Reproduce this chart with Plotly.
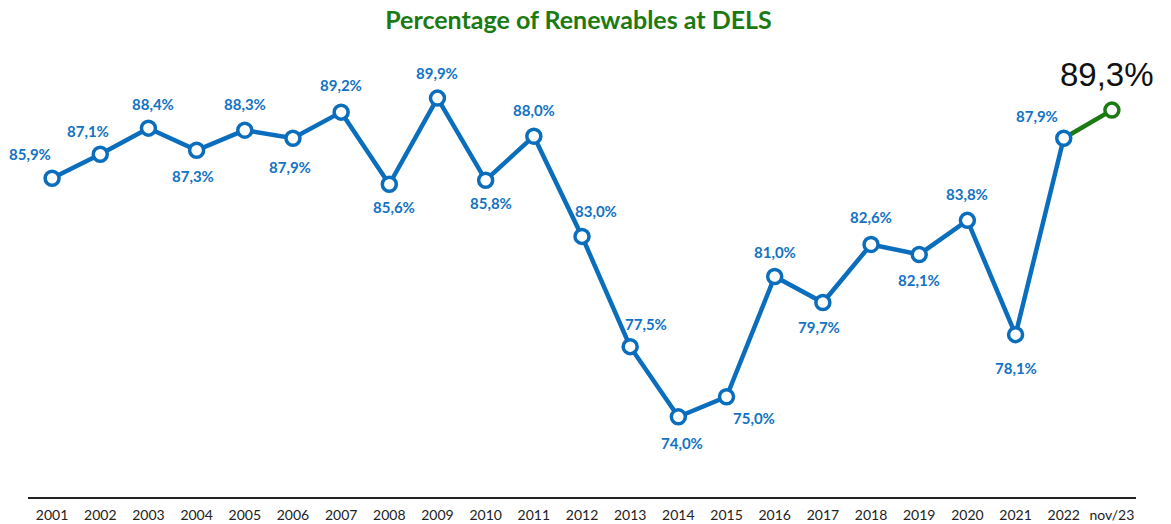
import plotly.graph_objects as go

categories = ["2001","2002","2003","2004","2005","2006","2007","2008","2009","2010","2011",
              "2012","2013","2014","2015","2016","2017","2018","2019","2020","2021","2022","nov/23"]
values = [85.9, 87.1, 88.4, 87.3, 88.3, 87.9, 89.2, 85.6, 89.9, 85.8, 88.0,
          83.0, 77.5, 74.0, 75.0, 81.0, 79.7, 82.6, 82.1, 83.8, 78.1, 87.9, 89.3]
# label placement (style): (xshift, yshift) in px
label_offsets = [(-22, 24), (-12, 23), (5, 24), (-4, -26), (0, 26), (-3, -29), (0, 27), (5, -23),
                 (0, 25), (5, -23), (0, 26), (14, 25), (16, 23), (4, -26), (27, -21), (0, 25),
                 (-4, -24), (0, 27), (0, -26), (0, 26), (0, -33), (-27, 22)]

BLUE = "#0A6EBD"
GREEN = "#1B7A12"
LABEL_BLUE = "#1273C4"

fig = go.Figure()
fig.add_trace(go.Scatter(
    x=categories[:-1], y=values[:-1], mode="lines",
    line=dict(color=BLUE, width=4.5),
    hoverinfo="skip", showlegend=False))
fig.add_trace(go.Scatter(
    x=categories[-2:], y=values[-2:], mode="lines",
    line=dict(color=GREEN, width=4.5),
    hoverinfo="skip", showlegend=False))
fig.add_trace(go.Scatter(
    x=categories, y=values, mode="markers",
    marker=dict(size=14, color="white",
                line=dict(color=[BLUE] * (len(values) - 1) + [GREEN], width=3.5)),
    hoverinfo="skip", showlegend=False))

def fmt(v):
    return f"{v:.1f}".replace(".", ",") + "%"

for i, (v, (dx, dy)) in enumerate(zip(values[:-1], label_offsets)):
    fig.add_annotation(x=i, y=v, xref="x", yref="y", text="<b>" + fmt(v) + "</b>",
                       showarrow=False, xshift=dx, yshift=dy,
                       font=dict(family="Lato", size=15, color=LABEL_BLUE))
fig.add_annotation(x=len(values) - 1, y=values[-1], xref="x", yref="y", text=fmt(values[-1]),
                   showarrow=False, xshift=-5, yshift=36,
                   font=dict(family="Liberation Sans", size=33, color="#111111"))

fig.update_layout(
    width=1171, height=524,
    margin=dict(l=28, r=35, t=56, b=27),
    paper_bgcolor="white", plot_bgcolor="white",
    title=dict(text="<b>Percentage of Renewables at DELS</b>", x=0.494, xanchor="center",
               y=0.962, yanchor="middle",
               font=dict(family="Lato", size=25, color=GREEN)),
    xaxis=dict(type="category", categoryorder="array", categoryarray=categories,
               range=[-0.5, 22.5], showgrid=False, showline=True, automargin=False,
               linecolor="#222222", linewidth=2, ticks="", fixedrange=True,
               ticklabelstandoff=4,
               tickfont=dict(family="Lato", size=14, color="#222222")),
    yaxis=dict(range=[70, 92], visible=False, showgrid=False, zeroline=False),
)

fig.write_html("out.html")
